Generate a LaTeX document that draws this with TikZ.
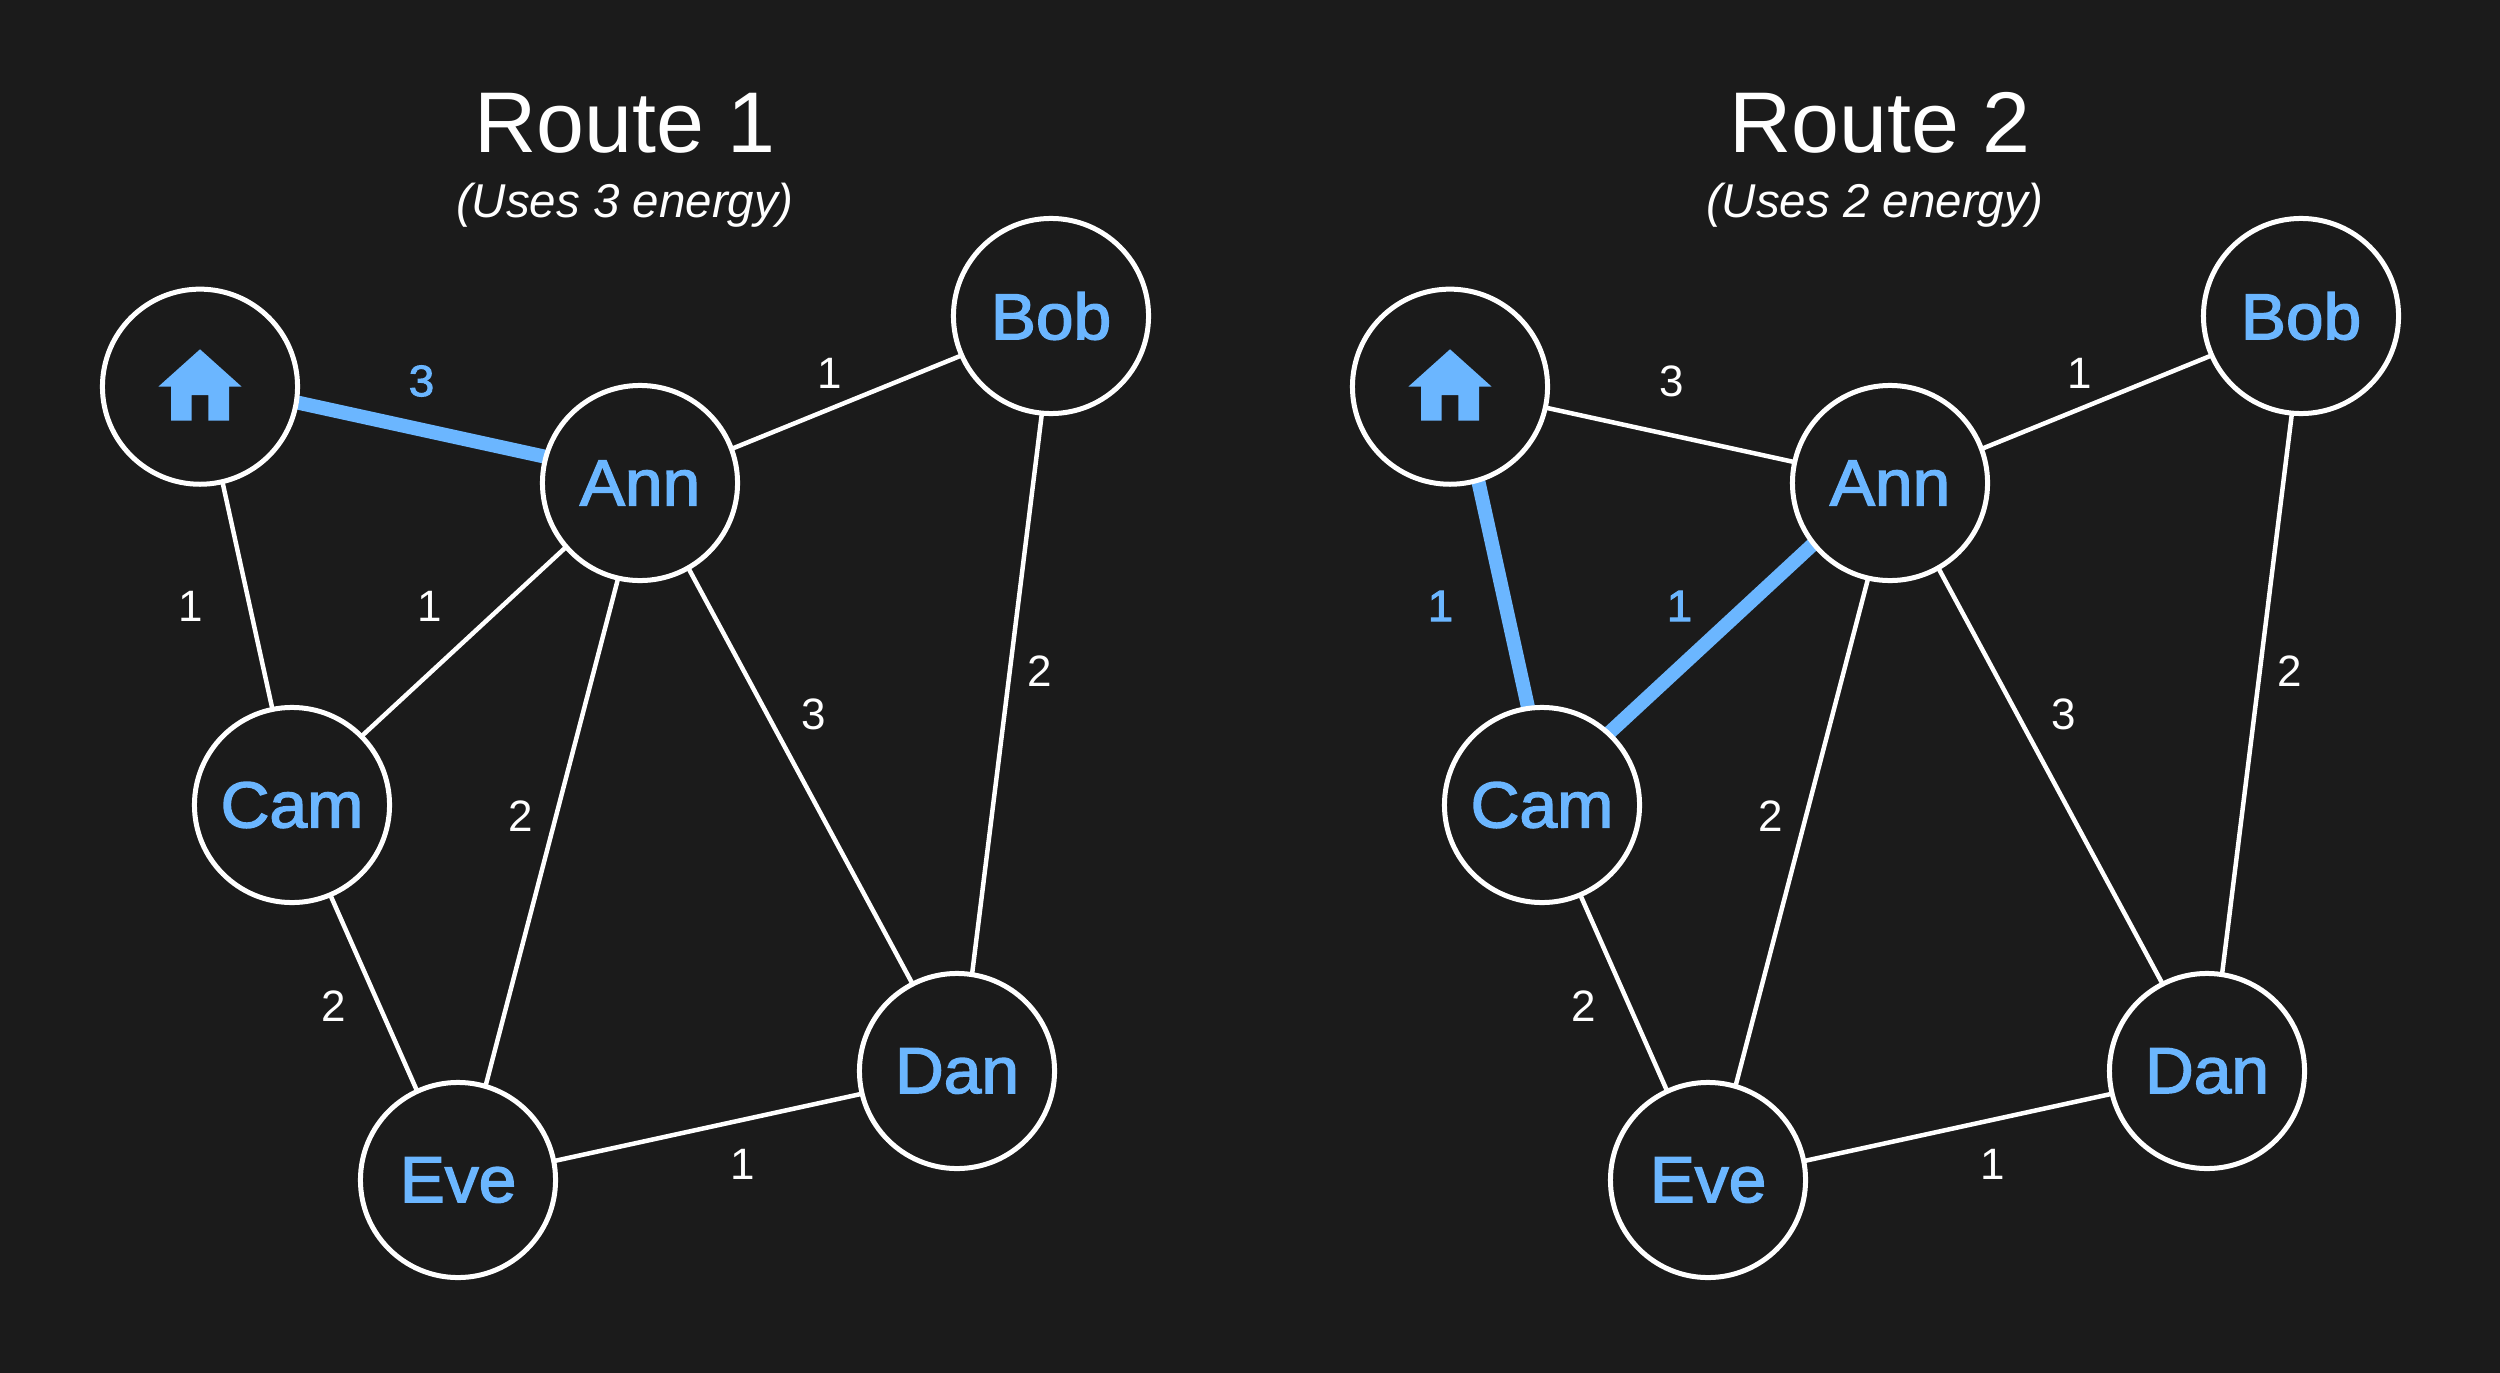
\documentclass[tikz,border=0pt]{standalone}
\usepackage{fontspec}
\setmainfont{Liberation Sans}
\newfontfamily\semifont[FakeBold=2.2,FakeStretch=1.04]{Liberation Sans}
\usetikzlibrary{backgrounds}
\definecolor{bgdark}{HTML}{1B1B1B}
\definecolor{skyblue}{HTML}{6BB6FF}
\tikzset{
  person/.style={circle,draw=white,line width=0.05cm,fill=bgdark,minimum size=1.95cm,inner sep=0pt,outer sep=0pt,text=skyblue,font=\fontsize{18.5}{20}\semifont},
  edgeoff/.style={draw=white,line width=0.045cm,shorten <=-0.12cm,shorten >=-0.12cm},
  edgeon/.style={draw=skyblue,line width=0.14cm,shorten <=-0.12cm,shorten >=-0.12cm},
  laboff/.style={text=white,inner sep=0pt,font=\fontsize{12.5}{14}\selectfont},
  labon/.style={text=skyblue,inner sep=0pt,font=\fontsize{12.5}{14}\semifont},
  titletext/.style={text=white,inner sep=0pt,font=\fontsize{24.5}{28}\selectfont},
  subtext/.style={text=white,inner sep=0pt,font=\fontsize{13.5}{16}\selectfont\itshape},
  nudge/.style 2 args={transform canvas={xshift=#1*0.01cm,yshift=-#2*0.01cm}},
  haoff/.style={edgeoff},
  haon/.style={edgeon,nudge={0}{-5.5}},
  hcoff/.style={edgeoff,nudge={1.5}{0}},
  hcon/.style={edgeon,nudge={7.5}{0}},
  acoff/.style={edgeoff,nudge={-1.5}{-3}},
  acon/.style={edgeon,nudge={0}{-10}},
}
\newcommand{\routegraph}[5]{%
  % #1 prefix, #2 x offset, #3 home-ann, #4 home-cam, #5 ann-cam
  \begin{scope}[shift={(#2,0)}]
    \node[person] (#1home) at (200,386.7) {};
    \node[person] (#1bob) at (1051,316) {Bob};
    \node[person] (#1ann) at (640,483) {Ann};
    \node[person] (#1cam) at (292,805) {Cam};
    \node[person] (#1dan) at (957,1071) {Dan};
    \node[person] (#1eve) at (458,1180) {Eve};
    \fill[skyblue,shift={(#1home)}] (0,-37.4) -- (41.7,0) -- (29,0) -- (29,34) -- (8.3,34) -- (8.3,8.3) -- (-8.3,8.3) -- (-8.3,34) -- (-29,34) -- (-29,0) -- (-41.7,0) -- cycle;
    \begin{scope}[on background layer]
      \draw[ha#3] (#1home) -- (#1ann);
      \draw[hc#4] (#1home) -- (#1cam);
      \draw[ac#5] (#1ann) -- (#1cam);
      \draw[edgeoff,nudge={1.5}{2.5}] (#1ann) -- (#1bob);
      \draw[edgeoff,nudge={3}{0}] (#1ann) -- (#1eve);
      \draw[edgeoff,nudge={2.5}{0}] (#1ann) -- (#1dan);
      \draw[edgeoff,nudge={3}{0}] (#1bob) -- (#1dan);
      \draw[edgeoff,nudge={-1.5}{0}] (#1cam) -- (#1eve);
      \draw[edgeoff,nudge={0}{2}] (#1eve) -- (#1dan);
    \end{scope}
    \node[lab#3] (#1la) at (421.5,381) {3};
    \node[lab#4] (#1lb) at (190.5,606) {1};
    \node[lab#5] (#1lc) at (429.5,606) {1};
    \node[laboff] (#1ld) at (829.5,373) {1};
    \node[laboff] (#1le) at (1039.5,671) {2};
    \node[laboff] (#1lf) at (813.5,714) {3};
    \node[laboff] (#1lg) at (520.5,816) {2};
    \node[laboff] (#1lh) at (333.5,1006) {2};
    \node[laboff] (#1li) at (742.5,1164) {1};
  \end{scope}
}
\begin{document}
\begin{tikzpicture}[x=0.01cm,y=-0.01cm]
  \useasboundingbox (0,0) rectangle (2500,1373);
  \begin{scope}[on background layer]
    \fill[bgdark] (0,0) rectangle (2500,1373);
  \end{scope}
  \routegraph{a}{0}{on}{off}{off}
  \routegraph{b}{1250}{off}{on}{on}
  \node[titletext] (titleone) at (625,123) {Route 1};
  \node[subtext] (subone) at (625,205) {(Uses 3 energy)};
  \node[titletext] (titletwo) at (1880,123) {Route 2};
  \node[subtext] (subtwo) at (1875,205) {(Uses 2 energy)};
\end{tikzpicture}
\end{document}
